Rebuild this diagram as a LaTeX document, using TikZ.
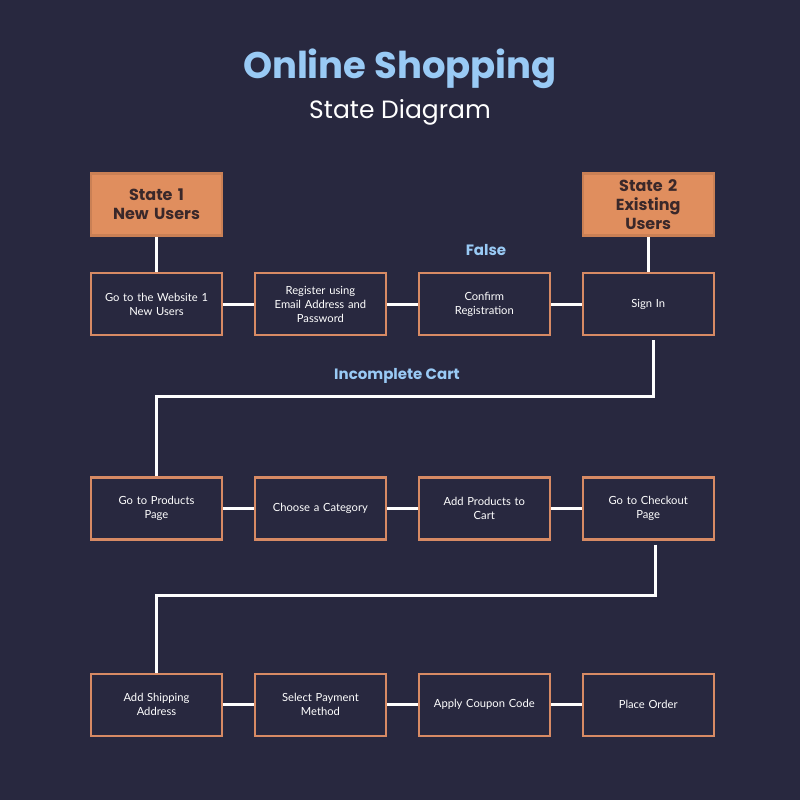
\documentclass[tikz,border=0pt]{standalone}
\usepackage{fontspec}
\setmainfont{Lato}
\newfontfamily\headfont{Poppins}
\usepackage{tikz}
\usetikzlibrary{positioning}
\definecolor{shopnavy}{RGB}{40,40,63}
\definecolor{shoporange}{RGB}{224,142,94}
\definecolor{shopedge}{RGB}{215,138,100}
\definecolor{shopblue}{RGB}{153,202,245}
\definecolor{shopdark}{RGB}{58,40,42}
\tikzstyle{stepbox} = [rectangle, minimum width=131pt, minimum height=62pt, text width=118pt, align=center, draw=shopedge, fill=shopnavy, line width=2.4pt, text=white, font=\fontsize{11.2}{14}\selectfont]
\tikzstyle{statebox} = [stepbox, fill=shoporange, draw=shoporange!90!black, text=shopdark, font=\headfont\bfseries\fontsize{16}{19}\selectfont]
\tikzstyle{link} = [white, line width=3pt]
\tikzstyle{tag} = [text=shopblue, font=\headfont\bfseries\fontsize{15}{18}\selectfont]

\begin{document}
\begin{tikzpicture}[x=1pt, y=-1pt, node distance=30.5pt]
\fill[shopnavy] (0,0) rectangle (800,800);

\node[text=shopblue, font=\headfont\bfseries\fontsize{37}{42}\selectfont] (title) at (400,69) {Online Shopping};
\node[text=white, font=\headfont\fontsize{25}{30}\selectfont, below=4pt of title] (sub) {State Diagram};

% first row
\node[stepbox] (website) at (156.5,304) {Go to the Website 1\\New Users};
\node[stepbox, right=of website] (register) {Register using\\Email Address and\\Password};
\node[stepbox, right=of register] (confirm) {Confirm\\Registration};
\node[stepbox, right=of confirm] (signin) {Sign In};
\node[statebox, above=35pt of website] (newusers) {State 1\\New Users};
\node[statebox, above=35pt of signin] (oldusers) {State 2\\Existing\\Users};

% second row
\node[stepbox, below=140pt of website] (products) {Go to Products\\Page};
\node[stepbox, right=of products] (category) {Choose a Category};
\node[stepbox, right=of category] (addcart) {Add Products to\\Cart};
\node[stepbox, right=of addcart] (checkout) {Go to Checkout\\Page};

% third row
\node[stepbox, below=132pt of products] (shipping) {Add Shipping\\Address};
\node[stepbox, right=of shipping] (payment) {Select Payment\\Method};
\node[stepbox, right=of payment] (coupon) {Apply Coupon Code};
\node[stepbox, right=of coupon] (order) {Place Order};

\node[tag] (false) at (486,250) {False};
\node[tag] (cart) at (397,376) {Incomplete Cart};

\draw[link] (newusers) -- (website);
\draw[link] (oldusers) -- (signin);
\draw[link] (website) -- (register);
\draw[link] (register) -- (confirm);
\draw[link] (confirm) -- (signin);
\draw[link] (products) -- (category);
\draw[link] (category) -- (addcart);
\draw[link] (addcart) -- (checkout);
\draw[link] (shipping) -- (payment);
\draw[link] (payment) -- (coupon);
\draw[link] (coupon) -- (order);
\draw[link, shorten <=4pt] ([xshift=5pt]signin.south) -- ++(0,60) -| (products.north);
\draw[link, shorten <=4pt] ([xshift=7pt]checkout.south) -- ++(0,55) -| (shipping.north);
\end{tikzpicture}
\end{document}
